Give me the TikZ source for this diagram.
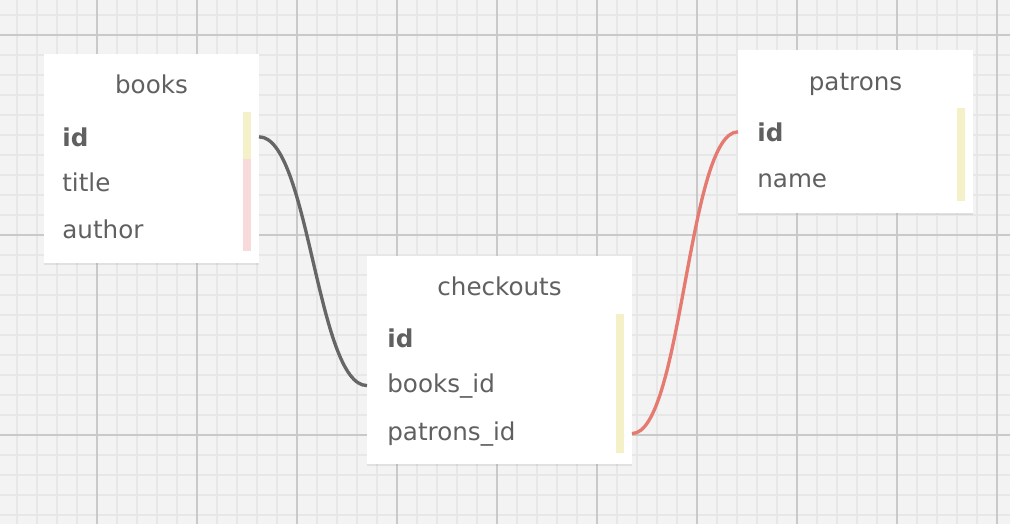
\documentclass[tikz,border=0pt]{standalone}
\usepackage{fontspec}
\setmainfont{DejaVu Sans}
\usetikzlibrary{fit,shadows}
\definecolor{gridbg}{HTML}{F3F3F3}
\definecolor{gridminor}{HTML}{E7E7E7}
\definecolor{gridmajor}{HTML}{C9C9C9}
\definecolor{txt}{HTML}{606060}
\definecolor{pkbar}{HTML}{F4F1C9}
\definecolor{colbar}{HTML}{F9DADA}
\definecolor{linkgray}{HTML}{666666}
\definecolor{linkred}{HTML}{E57A70}

\begin{document}
\begin{tikzpicture}[x=0.02cm,y=-0.02cm,
    tbl/.style={fill=white, inner sep=0pt, outer sep=0pt,
      drop shadow={opacity=0.15, shadow xshift=0pt, shadow yshift=-1.2pt}},
    ttl/.style={anchor=base, text=txt, font=\fontsize{14}{16}\selectfont, inner sep=0pt},
    fld/.style={anchor=base west, text=txt, font=\fontsize{14}{16}\selectfont, inner sep=0pt},
    key/.style={fld, font=\fontsize{14}{16}\selectfont\bfseries},
    link/.style={line width=1.9pt}]
    \useasboundingbox (0,0) rectangle (1010,524);
    % grid
    \fill[gridbg] (0,0) rectangle (1010,524);
    \foreach \x in {17,37,...,1010}
        \draw[gridminor, line width=1pt] (\x,0) -- (\x,524);
    \foreach \y in {15,35,...,524}
        \draw[gridminor, line width=1pt] (0,\y) -- (1010,\y);
    \foreach \x in {97,197,...,997}
        \draw[gridmajor, line width=0.7pt] (\x,0) -- (\x,524);
    \foreach \y in {35,235,435}
        \draw[gridmajor, line width=0.7pt] (0,\y) -- (1010,\y);

    % books
    \node[tbl, fit={(44,54) (259,263)}] (books) {};
    \node[ttl] (books-name) at (151.5,93) {books};
    \node[key] (books-id) at (62,146) {id};
    \node[fld] (books-title) at (62,191) {title};
    \node[fld] (books-author) at (62,238) {author};
    \fill[pkbar] (243,112) rectangle (251,159);
    \fill[colbar] (243,159) rectangle (251,251);

    % checkouts
    \node[tbl, fit={(367,256) (632,464)}] (checkouts) {};
    \node[ttl] (checkouts-name) at (499.5,295) {checkouts};
    \node[key] (checkouts-id) at (387,347) {id};
    \node[fld] (checkouts-books) at (387,392) {books\_id};
    \node[fld] (checkouts-patrons) at (387,440) {patrons\_id};
    \fill[pkbar] (616,314) rectangle (624,453);

    % patrons
    \node[tbl, fit={(738,50) (973,213)}] (patrons) {};
    \node[ttl] (patrons-name) at (855.5,90) {patrons};
    \node[key] (patrons-id) at (757,141) {id};
    \node[fld] (patrons-fullname) at (757,187) {name};
    \fill[pkbar] (957,108) rectangle (965,201);

    % links
    \draw[link, linkgray] (books.east |- books-id) .. controls +(50,0) and +(-50,0) .. (checkouts.west |- checkouts-books);
    \draw[link, linkred] (checkouts.east |- checkouts-patrons) .. controls +(50,0) and +(-50,0) .. (patrons.west |- patrons-id);
\end{tikzpicture}
\end{document}
